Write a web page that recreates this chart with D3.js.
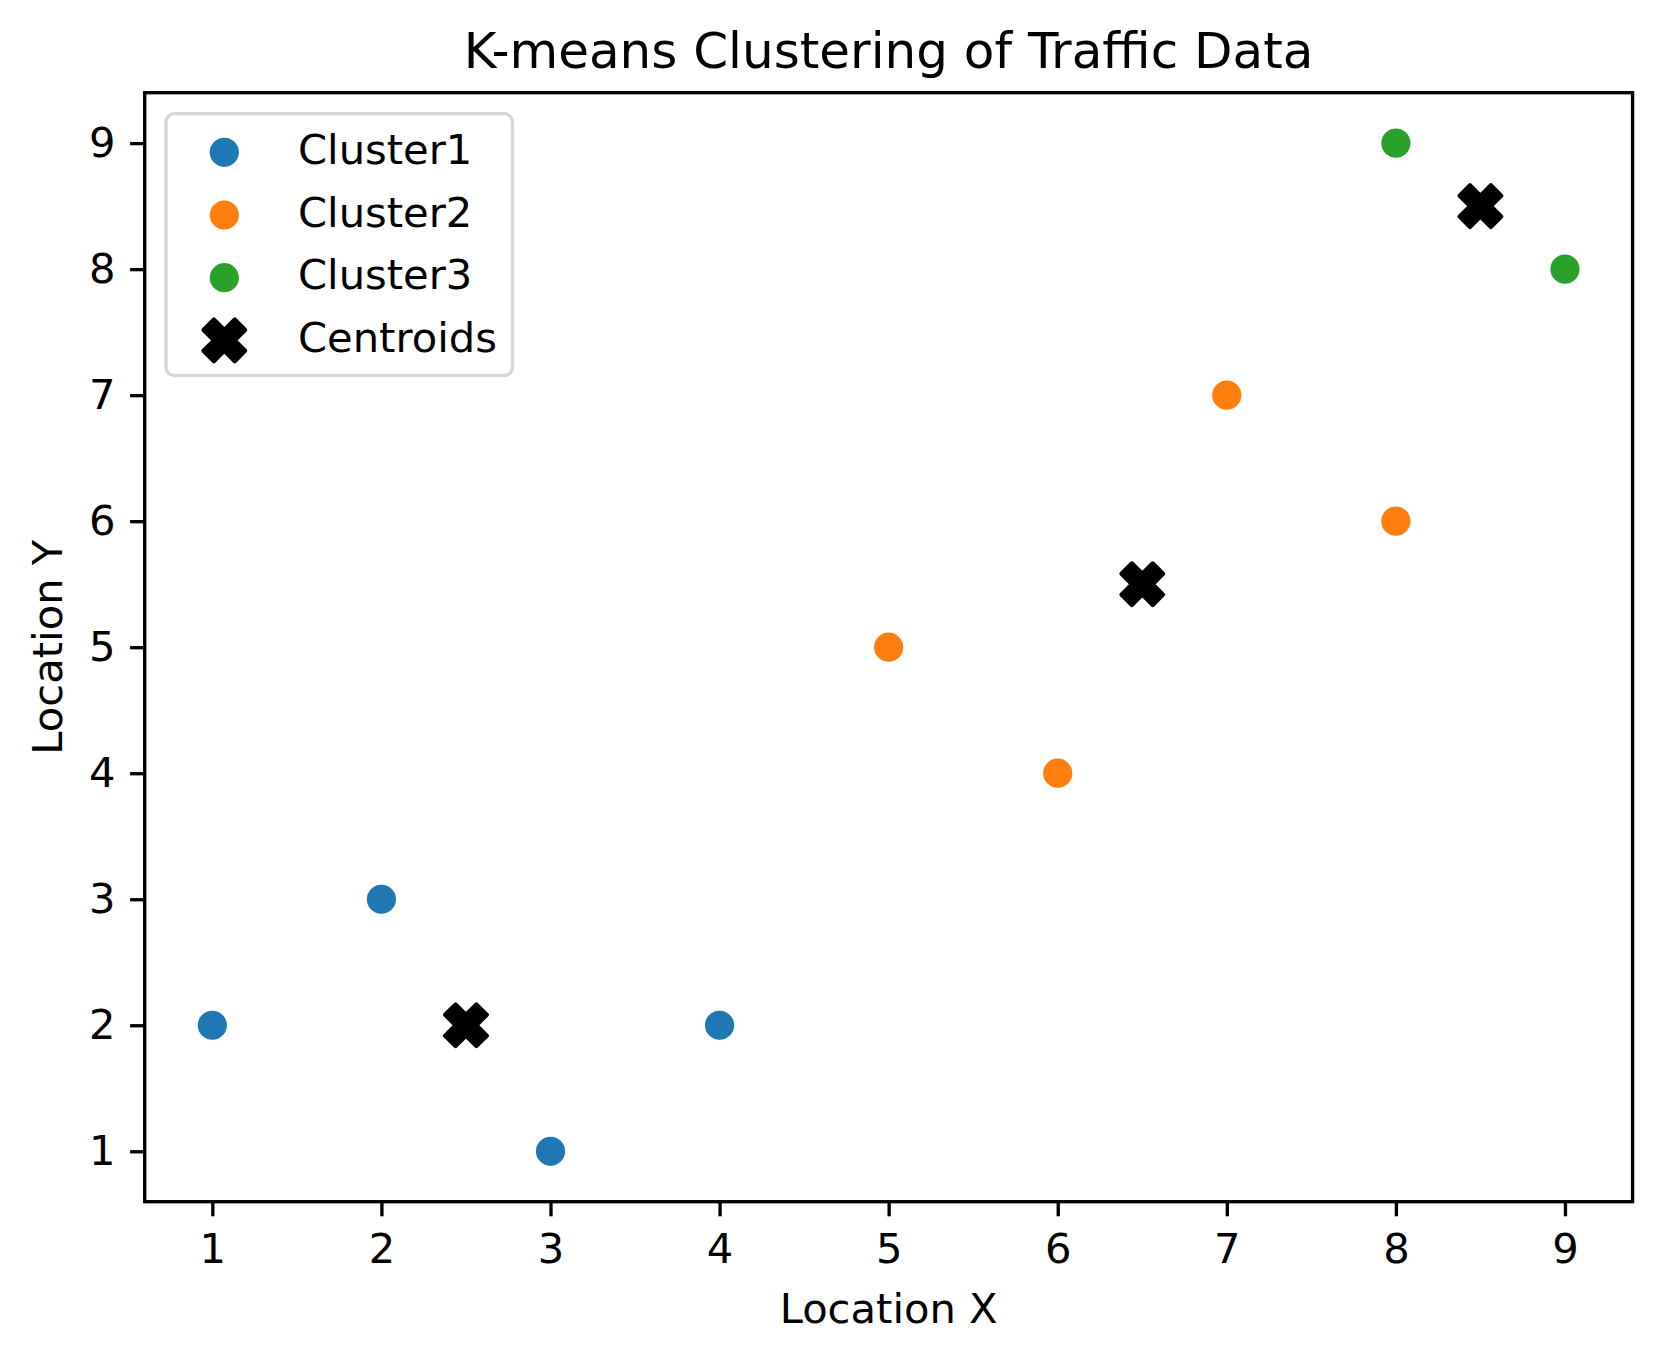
<!DOCTYPE html>
<html>
<head>
<meta charset="utf-8">
<script src="https://cdn.jsdelivr.net/npm/d3@7"></script>
<style>
html,body{margin:0;padding:0;background:#fff;}
svg{display:block;font-family:"DejaVu Sans",sans-serif;}
</style>
</head>
<body>
<svg id="chart" width="1662" height="1361"></svg>
<script>
// ---- data ----
const clusterNames = ["Cluster1", "Cluster2", "Cluster3"];
const clusterColors = ["#1f77b4", "#ff7f0e", "#2ca02c"];
const cluster1 = [[1, 2], [2, 3], [3, 1], [4, 2]];
const cluster2 = [[5, 5], [6, 4], [7, 7], [8, 6]];
const cluster3 = [[8, 9], [9, 8]];
const centroids = [[2.5, 2], [6.5, 5.5], [8.5, 8.5]];
const xTicks = [1, 2, 3, 4, 5, 6, 7, 8, 9];
const yTicks = [1, 2, 3, 4, 5, 6, 7, 8, 9];
const titleText = "K-means Clustering of Traffic Data";
const xLabel = "Location X";
const yLabel = "Location Y";
const centroidLabel = "Centroids";

(function () {
// ---- layout ----
const svg = d3.select("#chart");
const pL = 144.7, pR = 1632.6, pT = 92.7, pB = 1201.7;
const fs = 41.67;
const x = d3.scaleLinear().domain([0.6, 9.4]).range([pL, pR]);
const y = d3.scaleLinear().domain([0.6, 9.4]).range([pB, pT]);
const lw = 3.33;

// X marker path (matplotlib 'X' filled)
const xPts = [[-1,-2],[0,-1],[1,-2],[2,-1],[1,0],[2,1],[1,2],[0,1],[-1,2],[-2,1],[-1,0],[-2,-1]];
const xSize = 41.7; // total extent
function xPath(cx, cy) {
  const k = xSize / 4;
  return "M" + xPts.map(p => (cx + p[0]*k) + "," + (cy + p[1]*k)).join("L") + "Z";
}
const r = 14.6;

// clip
svg.append("defs").append("clipPath").attr("id","clip")
  .append("rect").attr("x",pL).attr("y",pT).attr("width",pR-pL).attr("height",pB-pT);

const plot = svg.append("g").attr("clip-path","url(#clip)");
const clusters = [cluster1, cluster2, cluster3];
clusters.forEach((pts, i) => {
  plot.selectAll(null).data(pts).enter().append("circle")
    .attr("cx", d => x(d[0])).attr("cy", d => y(d[1])).attr("r", r)
    .attr("fill", clusterColors[i]);
});
plot.selectAll(null).data(centroids).enter().append("path")
  .attr("d", d => xPath(x(d[0]), y(d[1])))
  .attr("fill", "#000").attr("stroke", "#000").attr("stroke-width", 4.17)
  .attr("stroke-linejoin", "round");

// axes
const xAxis = d3.axisBottom(x).tickValues(xTicks).tickSize(14.6).tickPadding(14.6).tickFormat(d3.format("d"));
const yAxis = d3.axisLeft(y).tickValues(yTicks).tickSize(14.6).tickPadding(14.6).tickFormat(d3.format("d"));
const gx = svg.append("g").attr("transform", `translate(0,${pB})`).call(xAxis);
const gy = svg.append("g").attr("transform", `translate(${pL},0)`).call(yAxis);
[gx, gy].forEach(g => {
  g.select(".domain").remove();
  g.selectAll(".tick line").attr("stroke", "#000").attr("stroke-width", lw);
  g.selectAll(".tick text").attr("fill", "#000").style("font-size", fs + "px")
    .style("font-family", '"DejaVu Sans", sans-serif');
});
gx.selectAll(".tick text").attr("dy", "0.76em");

// frame
svg.append("rect").attr("x", pL).attr("y", pT).attr("width", pR-pL).attr("height", pB-pT)
  .attr("fill", "none").attr("stroke", "#000").attr("stroke-width", lw);

// title & labels
svg.append("text").attr("x", (pL+pR)/2).attr("y", 67.7).attr("text-anchor","middle")
  .style("font-size", "50px").attr("fill","#000").text(titleText);
svg.append("text").attr("x", (pL+pR)/2).attr("y", 1322.7).attr("text-anchor","middle")
  .style("font-size", fs + "px").attr("fill","#000").text(xLabel);
svg.append("text").attr("transform", `translate(61.7,${(pT+pB)/2}) rotate(-90)`).attr("text-anchor","middle")
  .style("font-size", fs + "px").attr("fill","#000").text(yLabel);

// legend
const lg = svg.append("g");
lg.append("rect").attr("x", 166).attr("y", 113.7).attr("width", 512.5-166).attr("height", 375.5-113.7)
  .attr("rx", 8.3).attr("ry", 8.3).attr("fill", "#fff").attr("fill-opacity", 0.8)
  .attr("stroke", "#d6d6d6").attr("stroke-width", lw);
const legendItems = clusterNames.map((n, i) => ({name: n, color: clusterColors[i], type: "circle"}))
  .concat([{name: centroidLabel, color: "#000", type: "x"}]);
const ly0 = 152.3, lstep = 62.7, lmx = 224.3, ltx = 298;
legendItems.forEach((it, i) => {
  const cy = ly0 + i * lstep;
  if (it.type === "circle") {
    lg.append("circle").attr("cx", lmx).attr("cy", cy).attr("r", r).attr("fill", it.color);
  } else {
    lg.append("path").attr("d", xPath(lmx, cy)).attr("fill", "#000").attr("stroke", "#000")
      .attr("stroke-width", 4.17).attr("stroke-linejoin", "round");
  }
  lg.append("text").attr("x", ltx).attr("y", cy + 11.7).style("font-size", fs + "px")
    .attr("fill", "#000").text(it.name);
});
})();
</script>
</body>
</html>
